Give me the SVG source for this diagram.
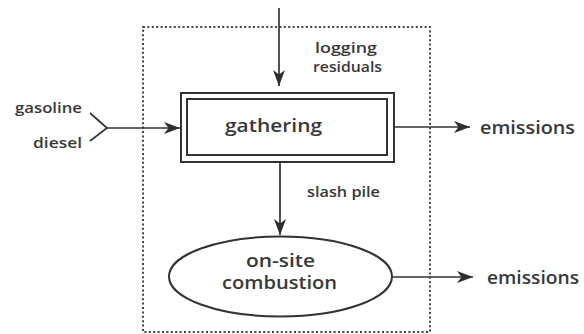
<svg xmlns="http://www.w3.org/2000/svg" width="584" height="334" viewBox="0 0 584 334">
  <defs>
    <marker id="arr" markerUnits="userSpaceOnUse" markerWidth="17" markerHeight="14" refX="16" refY="6.5" orient="auto">
      <path d="M0,0.5 L16,6.5 L0,12.5 L4.5,6.5 Z" fill="#2e2e2e"/>
    </marker>
  </defs>
  <style>
    text { font-family: "Open Sans", "Liberation Sans", sans-serif; fill: #383838; font-weight: 600; }
    .big { font-size: 18px; }
    .small { font-size: 14px; }
    .line { stroke: #333; stroke-width: 1.7; fill: none; }
    .box { stroke: #333; stroke-width: 2; fill: #fff; }
  </style>
  <rect id="boundary" x="143" y="27" width="287" height="305" fill="none" stroke="#444" stroke-width="2" stroke-dasharray="2 2.4"/>
  <g id="connectors">
    <line class="line" x1="279" y1="8" x2="279" y2="86" marker-end="url(#arr)"/>
    <polyline class="line" points="90,113 107,128 90,141"/>
    <line class="line" x1="107" y1="128" x2="180" y2="128" marker-end="url(#arr)"/>
    <line class="line" x1="394" y1="127" x2="470" y2="127" marker-end="url(#arr)"/>
    <line class="line" x1="280" y1="163" x2="280" y2="235" marker-end="url(#arr)"/>
    <line class="line" x1="392" y1="277" x2="473" y2="277" marker-end="url(#arr)"/>
  </g>
  <g id="gathering">
    <rect class="box" x="181" y="93" width="213" height="69"/>
    <rect class="box" x="187" y="99" width="200" height="56"/>
    <text class="big" x="273.5" y="132" text-anchor="middle" textLength="97" lengthAdjust="spacingAndGlyphs">gathering</text>
  </g>
  <g id="combustion">
    <ellipse class="box" cx="280.5" cy="276.5" rx="111.5" ry="40"/>
    <text class="big" x="280.5" y="267" text-anchor="middle" textLength="69" lengthAdjust="spacingAndGlyphs">on-site</text>
    <text class="big" x="279.5" y="289" text-anchor="middle" textLength="115" lengthAdjust="spacingAndGlyphs">combustion</text>
  </g>
  <g id="labels">
    <text class="small" x="82" y="113" text-anchor="end" textLength="67" lengthAdjust="spacingAndGlyphs">gasoline</text>
    <text class="small" x="82" y="148" text-anchor="end" textLength="49" lengthAdjust="spacingAndGlyphs">diesel</text>
    <text class="small" x="346" y="53" text-anchor="middle" textLength="62" lengthAdjust="spacingAndGlyphs">logging</text>
    <text class="small" x="347.5" y="72" text-anchor="middle" textLength="69" lengthAdjust="spacingAndGlyphs">residuals</text>
    <text class="small" x="343.5" y="197" text-anchor="middle" textLength="73" lengthAdjust="spacingAndGlyphs">slash pile</text>
  </g>
  <g id="emissions1">
    <text class="big" x="480" y="134" textLength="95" lengthAdjust="spacingAndGlyphs">emissions</text>
  </g>
  <g id="emissions2">
    <text class="big" x="487" y="284" textLength="92" lengthAdjust="spacingAndGlyphs">emissions</text>
  </g>
</svg>
